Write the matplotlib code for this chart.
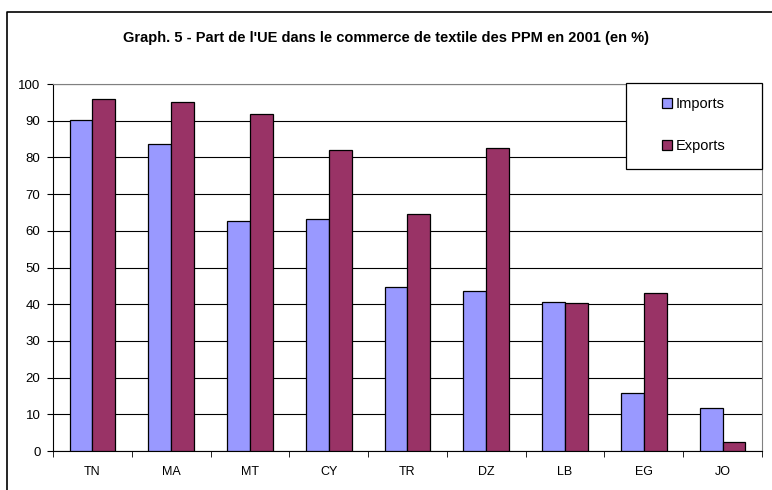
import numpy as np
import matplotlib.pyplot as plt
from matplotlib.lines import Line2D
from matplotlib.patches import Rectangle

countries = ['TN', 'MA', 'MT', 'CY', 'TR', 'DZ', 'LB', 'EG', 'JO']
imports = [90.2, 83.6, 62.7, 63.3, 44.6, 43.6, 40.7, 15.7, 11.7]
exports = [95.8, 95.1, 91.8, 82.0, 64.7, 82.6, 40.4, 43.0, 2.4]

plt.rcParams['font.family'] = ['Liberation Sans', 'DejaVu Sans']

W, H = 772, 490
fig = plt.figure(figsize=(W / 100, H / 100), dpi=100)
ax = fig.add_axes([53 / W, 39 / H, 709 / W, 367 / H])

# outer chart frame (only left and top edges are visible in the crop)
fig.lines.append(Line2D([7 / W, 7 / W, 1.0], [0, 478 / H, 478 / H],
                        transform=fig.transFigure, color='black', linewidth=1.2))

x = np.arange(len(countries))
w = 0.29
ax.bar(x - w / 2, imports, w, color='#9999FF', edgecolor='black', linewidth=0.9,
       label='Imports', zorder=3)
ax.bar(x + w / 2, exports, w, color='#993366', edgecolor='black', linewidth=0.9,
       label='Exports', zorder=3)

ax.set_xlim(-0.5, len(countries) - 0.5)
ax.set_ylim(0, 100)
ax.set_yticks(range(0, 101, 10))
ax.yaxis.grid(True, color='black', linewidth=0.8, zorder=0)
ax.set_axisbelow(True)

ax.set_xticks(x)
ax.set_xticklabels(countries)
ax.set_xticks(np.arange(-0.5, len(countries), 1), minor=True)
ax.tick_params(axis='x', which='major', length=0, pad=11, labelsize=9)
ax.tick_params(axis='x', which='minor', length=4, direction='out')
ax.tick_params(axis='y', length=4, direction='out', labelsize=9.5, pad=5)

for s in ['top', 'right']:
    ax.spines[s].set_color('#808080')
ax.spines['left'].set_color('black')
ax.spines['bottom'].set_color('black')

fig.text(0.5, 452 / H, "Graph. 5 - Part de l'UE dans le commerce de textile des PPM en 2001 (en %)",
         ha='center', va='center', fontsize=10.5, fontweight='bold')

# legend box drawn separately to get the wide padding
fig.patches.append(Rectangle((626 / W, (H - 169) / H), 136 / W, 86 / H,
                             transform=fig.transFigure, facecolor='white',
                             edgecolor='black', linewidth=0.9, zorder=5))
leg = fig.legend(*ax.get_legend_handles_labels(), loc='center',
                 bbox_to_anchor=(694 / W, (H - 125) / H), frameon=False,
                 fontsize=10.5, labelspacing=1.9, handlelength=0.7,
                 handleheight=0.7, handletextpad=0.25, borderpad=0)
leg.set_zorder(6)

fig.savefig('out.png', dpi=100)
